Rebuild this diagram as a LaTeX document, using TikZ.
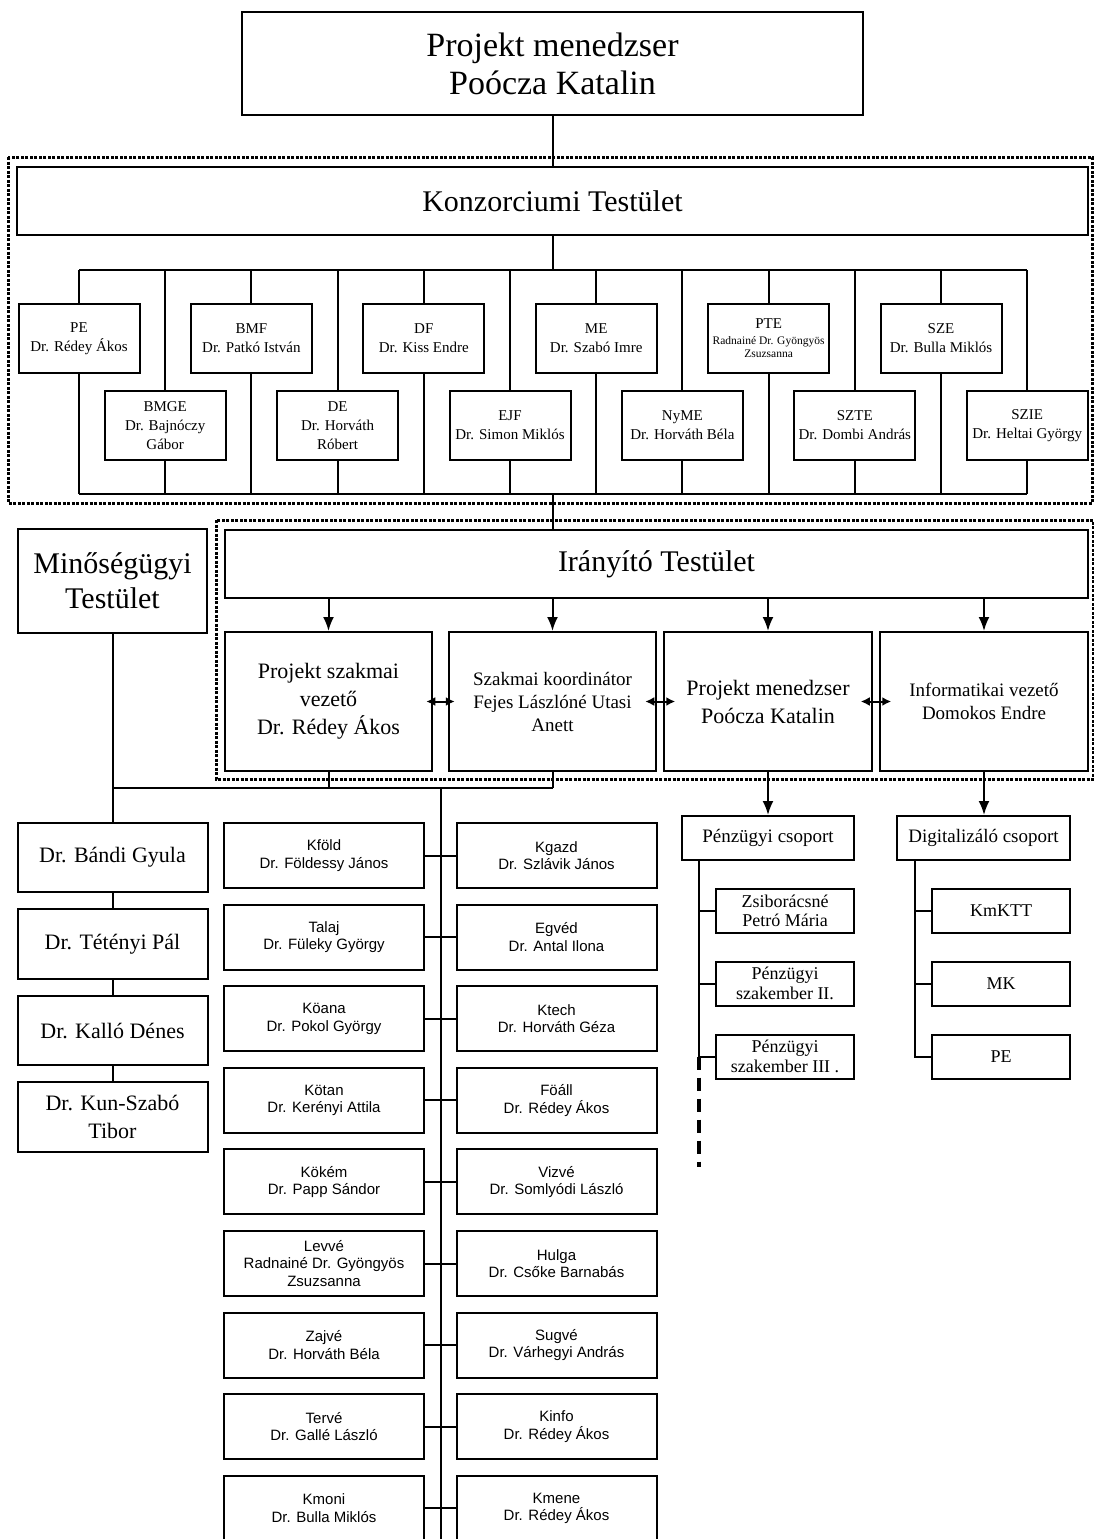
\documentclass[tikz,border=0pt]{standalone}
\usepackage{fontspec}
\setmainfont{Liberation Serif}
\newfontfamily\arialfont{Liberation Sans}
\usetikzlibrary{arrows.meta}

\begin{document}
\begin{tikzpicture}[x=1pt, y=-1pt, line width=2pt,
    box/.style={draw, line width=2pt, align=center, inner sep=1pt},
    org/.style={box, minimum width=121, minimum height=69, font=\fontsize{15}{19}\selectfont},
    vez/.style={box, minimum width=207.5, minimum height=139},
    nm/.style={box, minimum width=190, minimum height=69.5, font=\fontsize{22}{28}\selectfont},
    ab/.style={box, minimum width=200, minimum height=65, font=\arialfont\fontsize{15}{17.5}\selectfont},
    cs/.style={box, minimum width=172, minimum height=44, font=\fontsize{19}{22}\selectfont},
    sub/.style={box, minimum width=138, minimum height=44, font=\fontsize{18}{19.5}\selectfont},
    dotbox/.style={line width=3pt, dash pattern=on 3pt off 1.5pt},
    arr/.style={-{Latex[length=14pt, width=11pt]}},
    dbl/.style={{Latex[length=9pt, width=9pt]}-{Latex[length=9pt, width=9pt]}}]
    \useasboundingbox (0, 0) rectangle (1094, 1539);
    \draw (552.5, 63.5)node(pm)[box, minimum width=621, minimum height=103, font=\fontsize{34}{38}\selectfont]{Projekt menedzser\\Poócza Katalin};
    \draw (8, 157) rectangle (1092, 503)[dotbox];
    \draw (552.5, 201)node(kon)[box, minimum width=1071, minimum height=68, font=\fontsize{30}{35}\selectfont]{Konzorciumi Testület};
    \draw (79, 338.5)node(pe)[org]{PE\\Dr. Rédey Ákos};
    \draw (165.2, 425.5)node(bmge)[org]{BMGE\\Dr. Bajnóczy\\Gábor};
    \draw (251.4, 338.5)node(bmf)[org]{BMF\\Dr. Patkó István};
    \draw (337.6, 425.5)node(de)[org]{DE\\Dr. Horváth\\Róbert};
    \draw (423.8, 338.5)node(df)[org]{DF\\Dr. Kiss Endre};
    \draw (510, 425.5)node(ejf)[org]{EJF\\Dr. Simon Miklós};
    \draw (596.2, 338.5)node(me)[org]{ME\\Dr. Szabó Imre};
    \draw (682.4, 425.5)node(nyme)[org]{NyME\\Dr. Horváth Béla};
    \draw (768.6, 338.5)node(pte)[org]{PTE\\[-3pt]{\fontsize{11.5}{13}\selectfont Radnainé Dr. Gyöngyös}\\[-6pt]{\fontsize{11.5}{13}\selectfont Zsuzsanna}};
    \draw (854.8, 425.5)node(szte)[org]{SZTE\\Dr. Dombi András};
    \draw (941, 338.5)node(sze)[org]{SZE\\Dr. Bulla Miklós};
    \draw (1027.2, 425.5)node(szie)[org]{SZIE\\Dr. Heltai György};
    \coordinate (kt) at (0, 270);
    \coordinate (kb) at (0, 494);
    \draw (pm.south)--(kon.north);
    \draw (kon.south)--(kon.south |- kt);
    \draw (pe.north |- kt)--(szie.north |- kt);
    \draw (pe.south |- kb)--(szie.south |- kb);
    \draw (pe.north |- kt)--(pe.north) (pe.south)--(pe.south |- kb);
    \draw (bmge.north |- kt)--(bmge.north) (bmge.south)--(bmge.south |- kb);
    \draw (bmf.north |- kt)--(bmf.north) (bmf.south)--(bmf.south |- kb);
    \draw (de.north |- kt)--(de.north) (de.south)--(de.south |- kb);
    \draw (df.north |- kt)--(df.north) (df.south)--(df.south |- kb);
    \draw (ejf.north |- kt)--(ejf.north) (ejf.south)--(ejf.south |- kb);
    \draw (me.north |- kt)--(me.north) (me.south)--(me.south |- kb);
    \draw (nyme.north |- kt)--(nyme.north) (nyme.south)--(nyme.south |- kb);
    \draw (pte.north |- kt)--(pte.north) (pte.south)--(pte.south |- kb);
    \draw (szte.north |- kt)--(szte.north) (szte.south)--(szte.south |- kb);
    \draw (sze.north |- kt)--(sze.north) (sze.south)--(sze.south |- kb);
    \draw (szie.north |- kt)--(szie.north) (szie.south)--(szie.south |- kb);
    \draw (216, 520) rectangle (1093, 779)[dotbox];
    \draw (656.5, 564)node(ir)[box, minimum width=863, minimum height=68, font=\fontsize{30}{35}\selectfont]{Irányító Testület};
    \draw (kon.south |- kb)--(kon.south |- ir.north);
    \draw (112.5, 581)node(mt)[box, minimum width=189, minimum height=104, font=\fontsize{30}{35}\selectfont]{Minőségügyi\\Testület};
    \draw (328.5, 701.5)node(psz)[vez, font=\fontsize{22}{28}\selectfont]{Projekt szakmai\\vezető\\Dr. Rédey Ákos};
    \draw (552.5, 701.5)node(szk)[vez, font=\fontsize{19}{23}\selectfont]{Szakmai koordinátor\\Fejes Lászlóné Utasi\\Anett};
    \draw (768, 701.5)node(pmv)[vez, font=\fontsize{22}{28}\selectfont]{Projekt menedzser\\Poócza Katalin};
    \draw (984, 701.5)node(inf)[vez, font=\fontsize{19}{23}\selectfont]{Informatikai vezető\\Domokos Endre};
    \draw[arr] (ir.south -| psz.north)--(psz.north);
    \draw[arr] (ir.south -| szk.north)--(szk.north);
    \draw[arr] (ir.south -| pmv.north)--(pmv.north);
    \draw[arr] (ir.south -| inf.north)--(inf.north);
    \draw[dbl, shorten <=-7pt, shorten >=-7pt] (psz.east)--(szk.west);
    \draw[dbl, shorten <=-12pt, shorten >=-12pt] (szk.east)--(pmv.west);
    \draw[dbl, shorten <=-12pt, shorten >=-12pt] (pmv.east)--(inf.west);
    \draw (112.5, 857.5)node(bandi)[nm]{Dr. Bándi Gyula};
    \draw (112.5, 944)node(tet)[nm]{Dr. Tétényi Pál};
    \draw (112.5, 1030.5)node(kallo)[nm]{Dr. Kalló Dénes};
    \draw (112.5, 1117)node(kun)[nm]{Dr. Kun-Szabó\\Tibor};
    \coordinate (qb) at (0, 788);
    \coordinate (tr) at (441, 788);
    \coordinate (trend) at (441, 1539);
    \draw (mt.south)--(bandi.north);
    \draw (bandi.south)--(tet.north);
    \draw (tet.south)--(kallo.north);
    \draw (kallo.south)--(kun.north);
    \draw (mt.south |- qb)--(szk.south |- qb);
    \draw (psz.south)--(psz.south |- qb);
    \draw (szk.south)--(szk.south |- qb);
    \draw (tr)--(trend);
    \draw (324, 855.5)node(kfold)[ab]{Kföld\\Dr. Földessy János};
    \draw (556.5, 855.5)node(kgazd)[ab]{Kgazd\\Dr. Szlávik János};
    \draw (324, 937.1)node(talaj)[ab]{Talaj\\Dr. Füleky György};
    \draw (556.5, 937.1)node(egved)[ab]{Egvéd\\Dr. Antal Ilona};
    \draw (324, 1018.7)node(koana)[ab]{Köana\\Dr. Pokol György};
    \draw (556.5, 1018.7)node(ktech)[ab]{Ktech\\Dr. Horváth Géza};
    \draw (324, 1100.3)node(kotan)[ab]{Kötan\\Dr. Kerényi Attila};
    \draw (556.5, 1100.3)node(foall)[ab]{Föáll\\Dr. Rédey Ákos};
    \draw (324, 1181.9)node(kokem)[ab]{Kökém\\Dr. Papp Sándor};
    \draw (556.5, 1181.9)node(vizve)[ab]{Vizvé\\Dr. Somlyódi László};
    \draw (324, 1263.5)node(levve)[ab]{Levvé\\Radnainé Dr. Gyöngyös\\Zsuzsanna};
    \draw (556.5, 1263.5)node(hulga)[ab]{Hulga\\Dr. Csőke Barnabás};
    \draw (324, 1345.1)node(zajve)[ab]{Zajvé\\Dr. Horváth Béla};
    \draw (556.5, 1345.1)node(sugve)[ab]{Sugvé\\Dr. Várhegyi András};
    \draw (324, 1426.7)node(terve)[ab]{Tervé\\Dr. Gallé László};
    \draw (556.5, 1426.7)node(kinfo)[ab]{Kinfo\\Dr. Rédey Ákos};
    \draw (324, 1508.3)node(kmoni)[ab]{Kmoni\\Dr. Bulla Miklós};
    \draw (556.5, 1508.3)node(kmene)[ab]{Kmene\\Dr. Rédey Ákos};
    \draw (kfold.east)--(kgazd.west);
    \draw (talaj.east)--(egved.west);
    \draw (koana.east)--(ktech.west);
    \draw (kotan.east)--(foall.west);
    \draw (kokem.east)--(vizve.west);
    \draw (levve.east)--(hulga.west);
    \draw (zajve.east)--(sugve.west);
    \draw (terve.east)--(kinfo.west);
    \draw (kmoni.east)--(kmene.west);
    \draw (768, 838)node(penz)[cs]{Pénzügyi csoport};
    \draw (983.5, 838)node(dig)[cs, minimum width=173]{Digitalizáló csoport};
    \draw[arr] (pmv.south)--(penz.north);
    \draw[arr] (inf.south)--(inf.south |- dig.north);
    \draw (785, 911)node(zsib)[sub]{Zsiborácsné\\Petró Mária};
    \draw (785, 983.5)node(pszak2)[sub]{Pénzügyi\\szakember II.};
    \draw (785, 1056.5)node(pszak3)[sub]{Pénzügyi\\szakember III .};
    \draw (1001, 911)node(kmktt)[sub]{KmKTT};
    \draw (1001, 983.5)node(mk)[sub]{MK};
    \draw (1001, 1056.5)node(pe2)[sub]{PE};
    \coordinate (pv) at (699, 0);
    \coordinate (dv) at (915, 0);
    \draw (pv |- penz.south)--(pv |- pszak3.west);
    \draw (pv |- zsib.west)--(zsib.west);
    \draw (pv |- pszak2.west)--(pszak2.west);
    \draw (pv |- pszak3.west)--(pszak3.west);
    \draw (pv |- pszak3.west)--++(0, 110)[line width=3.5pt, dash pattern=on 13pt off 8pt];
    \draw (dv |- dig.south)--(dv |- pe2.west)--(pe2.west);
    \draw (dv |- kmktt.west)--(kmktt.west);
    \draw (dv |- mk.west)--(mk.west);
\end{tikzpicture}
\end{document}
